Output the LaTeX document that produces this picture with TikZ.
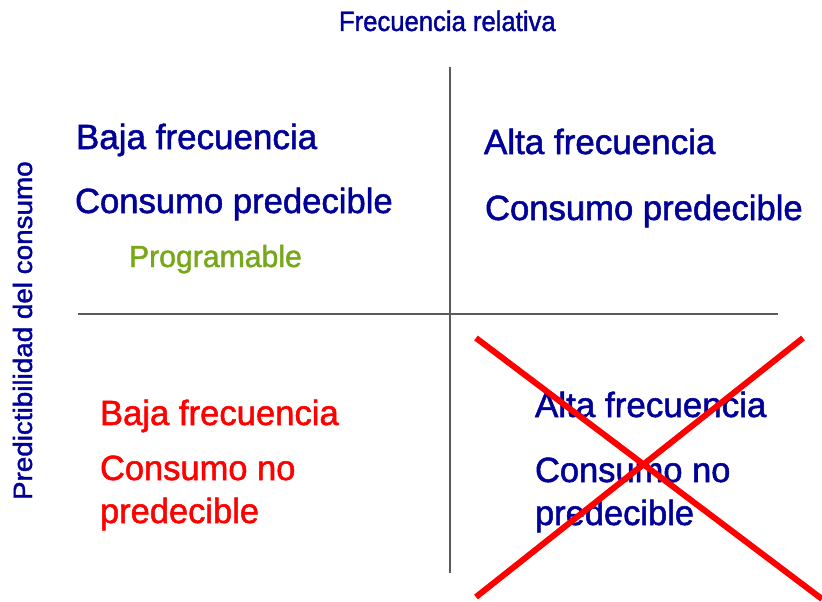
\documentclass[tikz,border=0pt]{standalone}
\usepackage{fontspec}
\setmainfont{Liberation Sans}
\newfontfamily\heavy{Liberation Sans}[FakeBold=1.5]
\definecolor{navy}{RGB}{0,0,153}
\definecolor{prog}{RGB}{119,168,28}
\definecolor{axisgray}{RGB}{90,90,90}
\newcommand{\fs}[1]{\fontsize{#1}{#1}\selectfont}
\newcommand{\sq}[2]{\scalebox{#1}[1]{#2}}
\tikzset{
  txt/.style={anchor=base west, inner sep=0pt, outer sep=0pt},
  big/.style={txt, font=\heavy\fs{35}},
  axis/.style={draw=axisgray, line width=2pt},
  cross/.style={draw=red, line width=6pt},
}
\begin{document}
\begin{tikzpicture}[x=1pt,y=-1pt]
\useasboundingbox (0,0) rectangle (822,602);
% axes
\coordinate (vt) at (450,67);
\coordinate (vb) at (450,573);
\coordinate (hl) at (78,314);
\coordinate (hr) at (778,314);
\draw[axis] (vt) -- (vb);
\draw[axis] (hl) -- (hr);
% title and side label
\node[txt, font=\heavy\fs{28}, text=navy] (title) at (339,31) {\sq{0.916}{Frecuencia relativa}};
\node[txt, font=\heavy\fs{26.5}, text=navy, rotate=90] (side) at (32,500) {\sq{1.05}{Predictibilidad del consumo}};
% top-left
\node[big, text=navy] (tl1) at (76,149) {\sq{1.0}{Baja frecuencia}};
\node[big, text=navy] (tl2) at (75,213) {\sq{0.99}{Consumo predecible}};
\node[txt, font=\heavy\fs{30.5}, text=prog] (tl3) at (129,267) {\sq{0.99}{Programable}};
% top-right
\node[big, text=navy] (tr1) at (484,154) {\sq{1.0}{Alta frecuencia}};
\node[big, text=navy] (tr2) at (485,220) {\sq{0.99}{Consumo predecible}};
% bottom-left
\node[big, text=red] (bl1) at (100,425) {\sq{0.99}{Baja frecuencia}};
\node[big, text=red] (bl2) at (100,480) {\sq{0.985}{Consumo no}};
\node[big, text=red] (bl3) at (100,523) {\sq{0.985}{predecible}};
% bottom-right
\node[big, text=navy] (br1) at (535,417) {\sq{1.0}{Alta frecuencia}};
\node[big, text=navy] (br2) at (535,482) {\sq{0.985}{Consumo no}};
\node[big, text=navy] (br3) at (535,525) {\sq{0.985}{predecible}};
% red cross
\coordinate (x1a) at (476,338);
\coordinate (x1b) at (822,599);
\coordinate (x2a) at (476,597);
\coordinate (x2b) at (803,338);
\draw[cross] (x1a) -- (x1b);
\draw[cross] (x2a) -- (x2b);
\end{tikzpicture}
\end{document}
